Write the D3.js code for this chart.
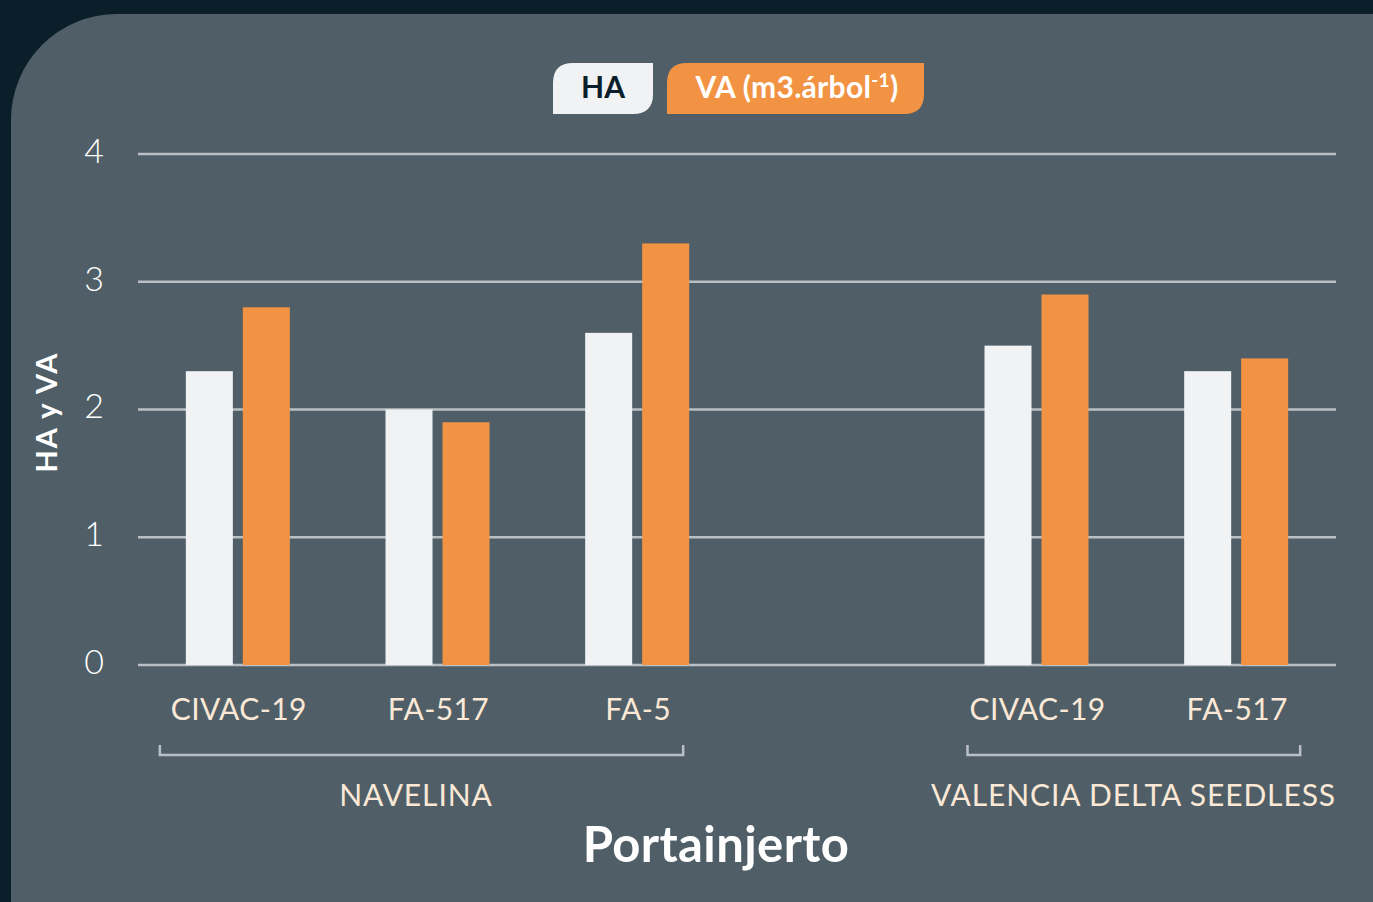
<!DOCTYPE html>
<html lang="es">
<head>
  <meta charset="UTF-8">
  <title>HA y VA por portainjerto</title>
  <style>
    body { margin:0; background:#0b1f2a; overflow:hidden; }
    svg { display:block; font-family: Lato, "Open Sans", sans-serif; }
  </style>
</head>
<body>
  <svg id="chart" width="1373" height="902"></svg>
  <script src="https://d3js.org/d3.v7.min.js"></script>
  <script>
    // data
    const rootstocks = ['CIVAC-19', 'FA-517', 'FA-5', '', 'CIVAC-19', 'FA-517'];
    const slotKeys   = ['n1', 'n2', 'n3', 'gap', 'v1', 'v2'];
    const haValues   = [2.3, 2.0, 2.6, null, 2.5, 2.3];
    const vaValues   = [2.8, 1.9, 3.3, null, 2.9, 2.4];
    const varieties  = [
      { name: 'NAVELINA', from: 'n1', to: 'n3' },
      { name: 'VALENCIA DELTA SEEDLESS', from: 'v1', to: 'v2' }
    ];
    const yTicks = [0, 1, 2, 3, 4];
    const seriesNames = ['HA', 'VA'];

    const svg = d3.select('#chart');
    const W = 1373, H = 902;
    const orange = '#f29343', white = '#f1f2f4', grid = '#b8c0c5', label = '#fbe8d6';

    // rounded panel
    svg.append('path')
      .attr('d', `M11,${H} L11,120 A106,106 0 0 1 117,14 L${W},14 L${W},${H} Z`)
      .attr('fill', '#505f67');

    const x = d3.scaleBand().domain(slotKeys).range([138, 1336]);
    const y = d3.scaleLinear().domain([0, 4]).range([665, 154]);
    const sub = d3.scaleBand().domain(seriesNames).range([0, 104]).paddingInner(0.175);

    // grid
    svg.append('g').selectAll('line').data(yTicks).join('line')
      .attr('x1', 138).attr('x2', 1336)
      .attr('y1', d => y(d)).attr('y2', d => y(d))
      .attr('stroke', grid).attr('stroke-width', 2.5);

    svg.append('g').selectAll('text').data(yTicks).join('text')
      .attr('x', 104).attr('y', d => y(d) - 3)
      .attr('dy', '0.35em')
      .attr('text-anchor', 'end')
      .attr('fill', '#fff').attr('font-size', 34).attr('font-weight', 300)
      .text(d => d);

    // bars
    const rows = slotKeys.map((k, i) => ({ k, ha: haValues[i], va: vaValues[i] }))
      .filter(d => d.ha != null);
    const g = svg.append('g').selectAll('g').data(rows).join('g')
      .attr('transform', d => `translate(${x(d.k) + x.bandwidth() / 2 - 52},0)`);
    g.selectAll('rect').data(d => [['HA', d.ha], ['VA', d.va]]).join('rect')
      .attr('x', d => sub(d[0]))
      .attr('width', sub.bandwidth())
      .attr('y', d => y(d[1]))
      .attr('height', d => y(0) - y(d[1]))
      .attr('fill', d => d[0] === 'HA' ? white : orange);

    // category labels
    svg.append('g').selectAll('text').data(slotKeys).join('text')
      .attr('x', d => x(d) + x.bandwidth() / 2 + 1)
      .attr('y', 720)
      .attr('text-anchor', 'middle')
      .attr('fill', label).attr('font-size', 30).attr('letter-spacing', 0.4)
      .text((d, i) => rootstocks[i]);

    // brackets + variety labels (left/right overhang of each bracket, px)
    const pads = { n1: 78, n3: 46, v1: 69, v2: 64 };
    const mid = k => x(k) + x.bandwidth() / 2;
    const br = svg.append('g');
    varieties.forEach(v => {
      const x0 = mid(v.from) - pads[v.from], x1 = mid(v.to) + pads[v.to];
      br.append('path')
        .attr('d', `M${x0},745 V755 H${x1} V745`)
        .attr('fill', 'none').attr('stroke', grid).attr('stroke-width', 2.5);
    });
    br.append('text').attr('x', 416).attr('y', 806).attr('text-anchor', 'middle')
      .attr('fill', label).attr('font-size', 30).attr('letter-spacing', 0.9).text(varieties[0].name);
    br.append('text').attr('x', 1336).attr('y', 806).attr('text-anchor', 'end')
      .attr('fill', label).attr('font-size', 30).attr('letter-spacing', 0.9).text(varieties[1].name);

    // axis titles
    svg.append('text').attr('x', 716).attr('y', 862).attr('text-anchor', 'middle')
      .attr('fill', '#fff').attr('font-size', 49).attr('font-weight', 700).attr('letter-spacing', 0.4)
      .text('Portainjerto');
    svg.append('text')
      .attr('transform', 'translate(57,412) rotate(-90)')
      .attr('text-anchor', 'middle')
      .attr('fill', '#fff').attr('font-size', 29).attr('font-weight', 700)
      .attr('letter-spacing', 2)
      .text('HA y VA');

    // legend
    const tab = (x0, y0, w, h, r) =>
      `M${x0},${y0 + h} V${y0 + r} Q${x0},${y0} ${x0 + r},${y0} H${x0 + w} V${y0 + h - r} Q${x0 + w},${y0 + h} ${x0 + w - r},${y0 + h} Z`;
    const lg = svg.append('g');
    lg.append('path').attr('d', tab(553, 63, 100, 51, 20)).attr('fill', white);
    lg.append('text').attr('x', 603).attr('y', 98).attr('text-anchor', 'middle')
      .attr('fill', '#0b1f2a').attr('font-size', 30).attr('font-weight', 700).text(seriesNames[0]);
    lg.append('path').attr('d', tab(667, 63, 257, 51, 20)).attr('fill', orange);
    const vt = lg.append('text').attr('x', 797).attr('y', 98).attr('text-anchor', 'middle')
      .attr('fill', '#fff').attr('font-size', 30).attr('font-weight', 700).attr('letter-spacing', 0.3);
    vt.append('tspan').text(seriesNames[1] + ' (m3.árbol');
    vt.append('tspan').attr('font-size', 19).attr('dy', -11).text('-1');
    vt.append('tspan').attr('dy', 11).text(')');
  </script>
</body>
</html>
